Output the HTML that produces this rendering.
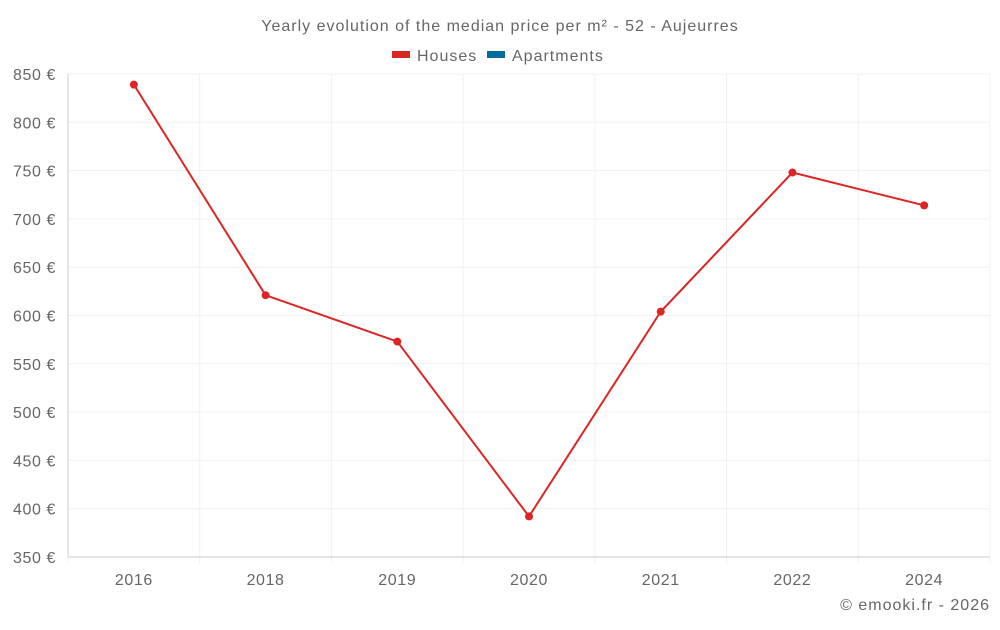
<!DOCTYPE html>
<html><head><meta charset="utf-8"><style>
body{margin:0;background:#fff;font-family:"Liberation Sans",sans-serif;}
svg text{font-family:"Liberation Sans",sans-serif;fill:#666;}
.w{letter-spacing:1px;}
.t{letter-spacing:0.6px;}
</style></head><body>
<svg id="c" width="1000" height="625" xmlns="http://www.w3.org/2000/svg">
<text class="w" x="500" y="31" text-anchor="middle" font-size="16">Yearly evolution of the median price per m² - 52 - Aujeurres</text>
<g><rect x="392" y="51" width="18" height="7" fill="#dc2626"/><text class="w" x="417" y="61" font-size="16">Houses</text></g>
<g><rect x="487" y="51" width="18" height="7" fill="#0369a1"/><text class="w" x="512" y="61" font-size="16">Apartments</text></g>
<g id="grid"></g><g id="axes"></g><g id="series"></g>
<text class="w" x="990" y="610" text-anchor="end" font-size="16">© emooki.fr - 2026</text>
</svg>
<script>
const categories=["2016","2018","2019","2020","2021","2022","2024"];
const houses=[839,621,573,392,604,748,714];
const yTicks=[350,400,450,500,550,600,650,700,750,800,850];
const L=68,R=990,T=74,B=557,yMin=350,yMax=850;
const bw=(R-L)/categories.length;
const x=i=>L+bw*(i+0.5);
const y=v=>B-(v-yMin)/(yMax-yMin)*(B-T);
const NS="http://www.w3.org/2000/svg";
function mk(t,a,p){const e=document.createElementNS(NS,t);for(const k in a)e.setAttribute(k,a[k]);p.appendChild(e);return e;}
const g=document.getElementById('grid'),ax=document.getElementById('axes'),s=document.getElementById('series');
yTicks.forEach(v=>{
 const l=mk('line',{x1:L,x2:R,y1:y(v),y2:y(v),stroke:'#f0f0f0'},g);
 
 
 const t=mk('text',{x:56,y:y(v)+6,'text-anchor':'end','font-size':16,'class':'t'},ax);t.textContent=v+' €';
 
 
});
for(let i=0;i<=categories.length;i++){
 const xx=L+bw*i;
 const l=mk('line',{x1:xx,x2:xx,y1:T,y2:B+6,stroke:'#f0f0f0'},g);
 
 
}
categories.forEach((c,i)=>{
 const t=mk('text',{x:x(i),y:585,'text-anchor':'middle','font-size':16,'class':'t'},ax);t.textContent=c;
 
 
});
const xa=mk('line',{x1:L,x2:R,y1:B,y2:B,stroke:'#ccc'},ax);


const ya=mk('line',{x1:L,x2:L,y1:T,y2:B,stroke:'#ccc'},ax);


const pl=mk('polyline',{points:houses.map((v,i)=>x(i)+','+y(v)).join(' '),fill:'none',stroke:'#dc2626','stroke-width':2},s);


houses.forEach((v,i)=>{
 const c=mk('circle',{cx:x(i),cy:y(v),r:4,fill:'#dc2626'},s);
 
 
});
</script>
</body></html>
